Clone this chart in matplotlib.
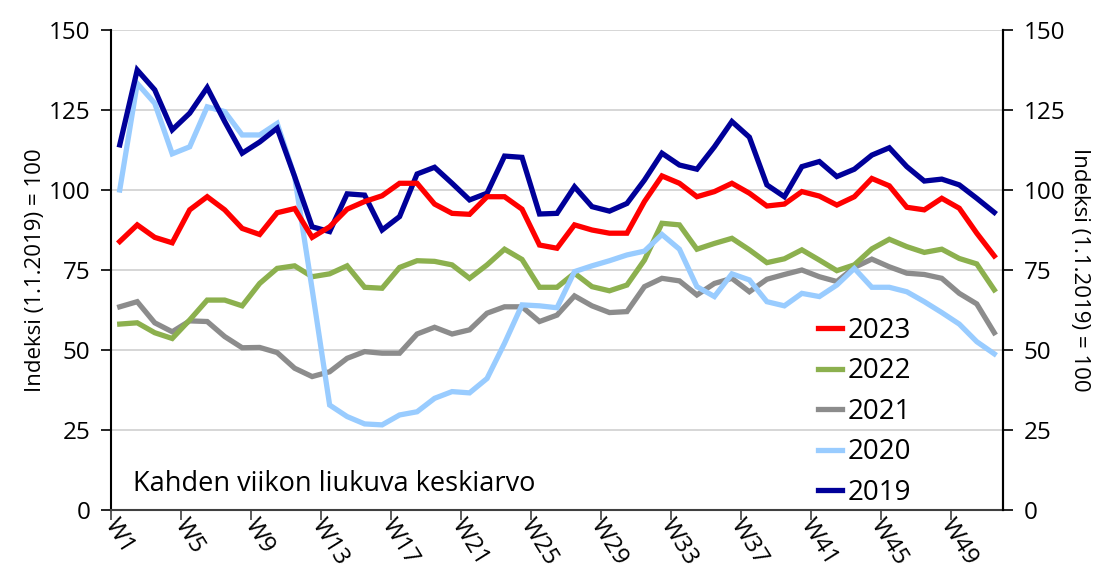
import matplotlib.pyplot as plt
import numpy as np

plt.rcParams["font.family"] = ["Open Sans", "DejaVu Sans"]

# weekly index, two-week moving average (1.1.2019 = 100), weeks W1..W51
weeks = np.arange(1, 52)

y2019 = [114.1, 137.5, 131.3, 118.8, 124.0, 132.0, 121.4, 111.5, 115.0, 119.3,
         104.2, 88.5, 87.0, 98.8, 98.4, 87.5, 91.7, 105.0, 107.1, 102.1,
         96.9, 99.0, 110.6, 110.2, 92.5, 92.7, 101.0, 94.8, 93.4, 95.8,
         103.1, 111.5, 107.8, 106.5, 113.5, 121.4, 116.5, 101.6, 97.9, 107.3,
         108.9, 104.2, 106.5, 110.9, 113.2, 107.3, 102.8, 103.4, 101.6, 97.4,
         93.0]
y2020 = [100.0, 133.3, 127.1, 111.3, 113.5, 126.0, 124.5, 117.2, 117.2, 120.8,
         104.2, 69.0, 32.8, 29.2, 26.9, 26.6, 29.7, 30.7, 34.9, 37.0,
         36.6, 41.1, 52.1, 64.1, 63.8, 63.2, 74.5, 76.3, 77.9, 79.7,
         80.9, 86.1, 81.5, 69.8, 66.7, 73.8, 71.9, 65.1, 63.8, 67.7,
         66.7, 70.3, 75.5, 69.6, 69.6, 68.2, 65.1, 61.7, 58.1, 52.6,
         48.8]
y2021 = [63.5, 65.1, 58.5, 55.7, 59.1, 58.9, 54.2, 50.7, 50.8, 49.2,
         44.3, 41.7, 43.2, 47.4, 49.5, 49.0, 49.0, 55.0, 57.1, 55.0,
         56.3, 61.5, 63.5, 63.5, 58.9, 60.9, 66.9, 63.8, 61.7, 62.0,
         69.8, 72.4, 71.6, 67.2, 70.8, 72.4, 68.2, 72.1, 73.6, 75.0,
         72.9, 71.4, 75.8, 78.4, 76.0, 74.0, 73.6, 72.4, 67.7, 64.4,
         55.4]
y2022 = [58.1, 58.5, 55.4, 53.6, 59.4, 65.6, 65.6, 63.8, 70.8, 75.5,
         76.3, 72.9, 73.8, 76.3, 69.6, 69.3, 75.8, 77.9, 77.7, 76.6,
         72.4, 76.6, 81.5, 78.3, 69.6, 69.6, 74.0, 69.8, 68.5, 70.3,
         78.1, 89.6, 89.1, 81.5, 83.3, 84.9, 81.3, 77.3, 78.5, 81.3,
         78.1, 74.8, 76.6, 81.6, 84.6, 82.3, 80.5, 81.5, 78.6, 76.9,
         68.8]
y2023 = [83.9, 89.1, 85.2, 83.5, 93.8, 97.9, 93.8, 88.0, 86.1, 92.9,
         94.2, 85.2, 88.5, 94.0, 96.4, 98.2, 102.1, 102.1, 95.6, 92.7,
         92.4, 97.9, 97.9, 94.0, 82.8, 81.8, 89.1, 87.5, 86.5, 86.5,
         96.4, 104.4, 102.1, 97.9, 99.5, 102.1, 99.0, 95.0, 95.6, 99.5,
         98.1, 95.3, 97.9, 103.6, 101.3, 94.6, 93.8, 97.4, 94.3, 86.5,
         79.4]

series = [("2023", y2023, "#ff0000"),
          ("2022", y2022, "#8cb04e"),
          ("2021", y2021, "#8c8c8c"),
          ("2020", y2020, "#99ccff"),
          ("2019", y2019, "#000099")]
draw_order = ["2021", "2022", "2020", "2019", "2023"]

label_weeks = np.arange(1, 52, 4)
yticks = [0, 25, 50, 75, 100, 125, 150]
ylabel = "Indeksi (1.1.2019) = 100"

fig = plt.figure(figsize=(11.02, 5.82), dpi=100)
ax = fig.add_axes([111 / 1102, 1 - 510 / 582, 892 / 1102, 480 / 582])

lines = {}
for name in draw_order:
    vals, col = next((v, c) for n, v, c in series if n == name)
    lines[name], = ax.plot(weeks, vals, color=col, lw=3.8, solid_joinstyle="miter",
                           label=name, zorder=3)

ax.set_xlim(0.5, 51.5)
ax.set_ylim(0, 150)
ax.set_yticks(yticks)
ax.yaxis.grid(True, color="#d0d0d0", lw=1.2, zorder=0)
ax.set_axisbelow(True)

# tick marks on category boundaries, labels on category centres
ax.set_xticks(label_weeks - 0.5)
ax.set_xticklabels([])
ax.set_xticks(label_weeks, minor=True)
ax.set_xticklabels([f"W{w}" for w in label_weeks], minor=True, rotation=-58,
                   fontsize=17.5)
ax.tick_params(axis="x", which="minor", length=0, pad=3)
ax.tick_params(axis="x", which="major", length=7, width=1.2, color="#404040")
ax.tick_params(axis="y", labelsize=17.5, length=7, width=1.2, pad=8)

ax.spines["top"].set_visible(False)
ax.spines["left"].set_linewidth(1.5)
ax.spines["bottom"].set_color("#404040")
ax.spines["bottom"].set_linewidth(1.5)
ax.spines["right"].set_linewidth(1.5)
ax.set_ylabel(ylabel, fontsize=16, labelpad=2)

ax2 = ax.twinx()
ax2.set_ylim(0, 150)
ax2.set_yticks(yticks)
ax2.tick_params(axis="y", labelsize=17.5, length=7, width=1.2, pad=8)
for s in ["top", "left", "bottom"]:
    ax2.spines[s].set_visible(False)
ax2.spines["right"].set_linewidth(1.5)
ax2.set_ylabel(ylabel, fontsize=16, rotation=-90, labelpad=18)

ax.text(0.025, 0.054, "Kahden viikon liukuva keskiarvo", transform=ax.transAxes,
        fontsize=19.5, va="center", ha="left")

ax.legend([lines[n] for n, _, _ in series], [n for n, _, _ in series],
          loc="lower left", bbox_to_anchor=(0.786, -0.005), frameon=False,
          fontsize=20, handlelength=0.86, handletextpad=0.22, labelspacing=0.45,
          borderaxespad=0.0, borderpad=0.2)

fig.savefig("out.png", dpi=100)
